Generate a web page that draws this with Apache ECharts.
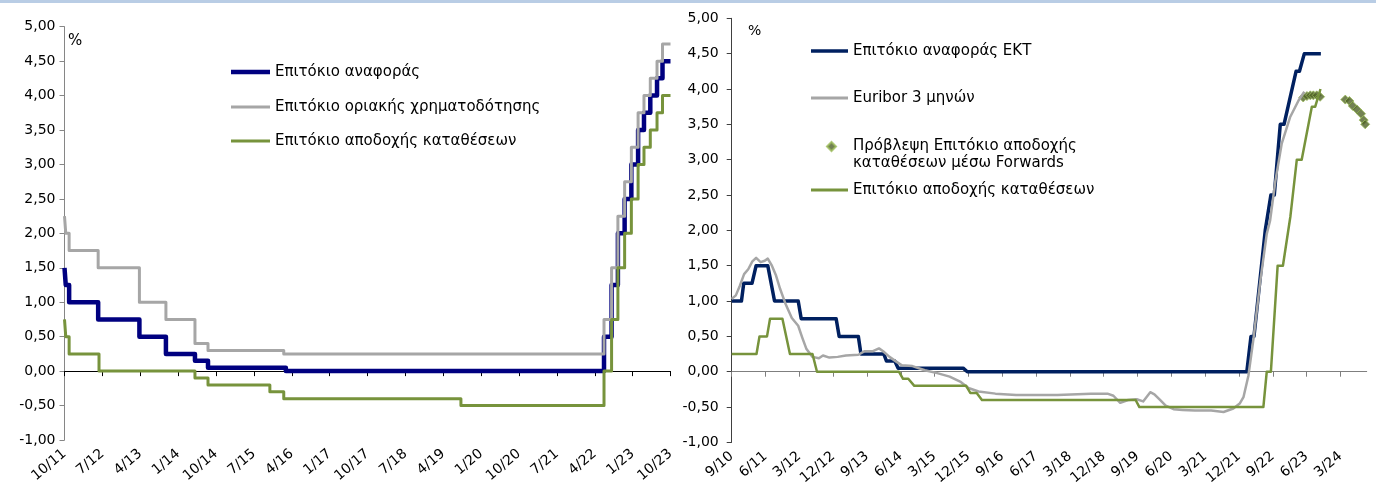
<!DOCTYPE html>
<html><head><meta charset="utf-8">
<script src="https://cdn.jsdelivr.net/npm/echarts@6/dist/echarts.min.js"></script>
<style>html,body{margin:0;padding:0;background:#fff}#c{width:1376px;height:485px}</style>
</head><body><div id="c"></div><script>
// ---- tick labels ----
const leftTickLabels = ['10/11','7/12','4/13','1/14','10/14','7/15','4/16','1/17','10/17','7/18','4/19','1/20','10/20','7/21','4/22','1/23','10/23'];
const rightTickLabels = ['9/10','6/11','3/12','12/12','9/13','6/14','3/15','12/15','9/16','6/17','3/18','12/18','9/19','6/20','3/21','12/21','9/22','6/23','3/24'];

// ---- left chart (x = months from 10/11), step changes ----
const leftRefRate = [[0,1.50],[0.3,1.25],[1.1,1.00],[8.0,0.75],[17.8,0.50],[24.1,0.25],[31.0,0.15],[34.1,0.05],[52.6,0.00],[128.2,0.50],[130.0,1.25],[131.5,2.00],[133.1,2.50],[134.7,3.00],[136.3,3.50],[137.7,3.75],[139.2,4.00],[140.8,4.25],[142.1,4.50],[144,4.50]];
const leftMarginalRate = [[0,2.25],[0.3,2.00],[1.1,1.75],[8.0,1.50],[17.8,1.00],[24.1,0.75],[31.0,0.40],[34.1,0.30],[52.1,0.25],[128.2,0.75],[130.0,1.50],[131.5,2.25],[133.1,2.75],[134.7,3.25],[136.3,3.75],[137.7,4.00],[139.2,4.25],[140.8,4.50],[142.1,4.75],[144,4.75]];
const leftDepositRate = [[0,0.75],[0.3,0.50],[1.1,0.25],[8.2,0.00],[31.0,-0.10],[34.1,-0.20],[48.8,-0.30],[52.1,-0.40],[94.2,-0.50],[128.2,0.00],[130.0,0.75],[131.5,1.50],[133.1,2.00],[134.7,2.50],[136.3,3.00],[137.7,3.25],[139.2,3.50],[140.8,3.75],[142.1,4.00],[144,4.00]];

// ---- right chart (x = months from 9/10) ----
const rightRefRate = [[0,1.00],[2.6,1.00],[3.2,1.25],[5.4,1.25],[6.5,1.50],[9.6,1.50],[11.4,1.00],[17.7,1.00],[18.5,0.75],[27.8,0.75],[28.6,0.50],[33.7,0.50],[34.4,0.25],[40.5,0.25],[41.2,0.15],[43.4,0.15],[44.3,0.05],[61.6,0.05],[62.7,0.00],[137.1,0.00],[138.2,0.50],[139.0,0.50],[140.5,1.25],[142.0,2.00],[143.5,2.50],[144.4,2.50],[146.0,3.50],[147.0,3.50],[150.2,4.25],[151.1,4.25],[152.4,4.50],[156.8,4.50]];
const rightEuribor = [[0,1.03],[1.1,1.08],[2.2,1.22],[3.3,1.38],[4.4,1.45],[5.5,1.56],[6.5,1.61],[7.7,1.55],[8.8,1.57],[9.6,1.60],[10.7,1.50],[11.8,1.36],[12.9,1.17],[14.4,0.95],[16.0,0.76],[17.7,0.65],[18.8,0.48],[19.9,0.32],[21.5,0.21],[23.2,0.19],[24.3,0.23],[26.0,0.20],[28.2,0.21],[30.4,0.23],[33.7,0.24],[35.4,0.29],[37.6,0.29],[39.2,0.33],[40.3,0.29],[42.0,0.21],[43.6,0.15],[45.3,0.09],[48.1,0.08],[51.4,0.02],[54.7,-0.02],[58.0,-0.07],[60.8,-0.14],[63.0,-0.23],[65.7,-0.28],[70.2,-0.31],[75.7,-0.33],[86.7,-0.33],[95.6,-0.31],[100.0,-0.31],[101.6,-0.34],[103.4,-0.44],[105.5,-0.40],[107.8,-0.39],[109.5,-0.42],[111.4,-0.29],[112.5,-0.32],[114.0,-0.40],[115.5,-0.48],[117.6,-0.53],[120.0,-0.54],[123.3,-0.55],[127.6,-0.55],[130.9,-0.57],[133.5,-0.52],[135.2,-0.45],[136.2,-0.36],[137.5,-0.06],[138.9,0.48],[140.7,1.29],[142.4,1.95],[143.3,2.14],[144.7,2.70],[146.4,3.23],[148.6,3.60],[150.9,3.84],[152.4,3.96]];
const rightDepositRate = [[0,0.25],[6.6,0.25],[7.4,0.50],[9.4,0.50],[10.2,0.75],[13.5,0.75],[15.5,0.25],[21.5,0.25],[22.7,0.00],[44.5,0.00],[45.6,-0.10],[47.0,-0.10],[48.6,-0.20],[62.4,-0.20],[63.5,-0.30],[65.2,-0.30],[66.6,-0.40],[107.5,-0.40],[108.5,-0.50],[141.5,-0.50],[142.4,0.00],[143.5,0.00],[145.3,1.50],[146.7,1.50],[148.7,2.20],[150.4,3.00],[151.7,3.00],[154.4,3.75],[155.3,3.75],[156.7,4.00]];
const forecastDeposit = [[152.1,3.88],[153.1,3.90],[154.0,3.91],[154.8,3.91],[155.7,3.91],[156.6,3.89],[163.3,3.85],[164.4,3.83],[165.3,3.76],[166.4,3.71],[167.5,3.65],[168.2,3.56],[168.6,3.50]];

const names = {
  ref: 'Επιτόκιο αναφοράς',
  marg: 'Επιτόκιο οριακής χρηματοδότησης',
  dep: 'Επιτόκιο αποδοχής καταθέσεων',
  refECB: 'Επιτόκιο αναφοράς ΕΚΤ',
  euribor: 'Euribor 3 μηνών',
  fc: 'Πρόβλεψη Επιτόκιο αποδοχής καταθέσεων μέσω Forwards'
};

const FONT = 'DejaVu Sans';
const NAVY_L = '#000080', NAVY_R = '#002060', GRAY = '#a6a6a6', GREEN = '#77933c';
const yFmt = v => v.toFixed(2).replace('.', ',');
const ticksOf = (labels) => labels.map((_, i) => i * 9);

function yAxis(grid, lineColor, margin) {
  return {
    type: 'value', gridIndex: grid, min: -1, max: 5, interval: 0.5,
    axisLine: { show: true, onZero: false, lineStyle: { color: lineColor, width: 1 } },
    axisTick: { show: true, length: 5, lineStyle: { color: lineColor } },
    splitLine: { show: false },
    axisLabel: { formatter: yFmt, fontFamily: FONT, fontSize: 14, color: '#000', margin: margin }
  };
}
function xLabelAxis(grid, max, labels) {
  return {
    type: 'value', gridIndex: grid, min: 0, max: max, interval: 9, position: 'bottom',
    axisLine: { show: false, onZero: false }, axisTick: { show: false }, splitLine: { show: false },
    axisLabel: {
      customValues: ticksOf(labels),
      formatter: v => labels[Math.round(v / 9)] || '',
      rotate: 40, fontFamily: FONT, fontSize: 14, color: '#000', margin: 12
    }
  };
}
function xZeroAxis(grid, max, labels, color) {
  return {
    type: 'value', gridIndex: grid, min: 0, max: max, interval: 9, position: 'bottom',
    axisLine: { show: true, onZero: true, lineStyle: { color: color, width: 1 } },
    axisTick: { show: true, length: 5, customValues: ticksOf(labels), lineStyle: { color: color } },
    axisLabel: { show: false }, splitLine: { show: false }
  };
}
function lineSeries(name, data, xi, yi, color, width, step) {
  return {
    type: 'line', name, data, xAxisIndex: xi, yAxisIndex: yi, step: step || false,
    symbol: 'none', showSymbol: false, silent: true,
    lineStyle: { color, width, join: 'round' }, itemStyle: { color }
  };
}
const legendText = { fontFamily: FONT, fontSize: 15, color: '#000' };
// legend with a flat bar icon; center = y centre of the row
function legend(name, left, center, w, h, color) {
  return {
    data: [{ name: name, icon: 'rect', itemStyle: { color: color } }],
    left, top: center - 7.5, orient: 'vertical', padding: 0,
    itemWidth: w, itemHeight: h, selectedMode: false,
    textStyle: legendText
  };
}

const chart = echarts.init(document.getElementById('c'), null, { renderer: 'canvas' });
chart.setOption({
  animation: false,
  backgroundColor: '#fff',
  grid: [
    { left: 64.5, top: 26.7, width: 606, height: 413.3, containLabel: false, outerBoundsMode: 'none' },
    { left: 731.7, top: 18.3, width: 635, height: 424.1, containLabel: false, outerBoundsMode: 'none' }
  ],
  xAxis: [
    xLabelAxis(0, 144, leftTickLabels),
    xZeroAxis(0, 144, leftTickLabels, '#000'),
    xLabelAxis(1, 169, rightTickLabels),
    xZeroAxis(1, 169, rightTickLabels, '#7f7f7f')
  ],
  yAxis: [yAxis(0, '#868686', 9), yAxis(1, '#404040', 13)],
  legend: [
    legend(names.ref, 231, 72, 39, 4.5, NAVY_L),
    legend(names.marg, 231, 107, 39, 3, GRAY),
    legend(names.dep, 231, 141, 39, 3, GREEN),
    legend(names.refECB, 811, 51, 37, 3.5, NAVY_R),
    legend(names.euribor, 811, 98, 37, 3, GRAY),
    {
      data: [{ name: names.fc, icon: 'path://M0,4.5L4.5,0L9,4.5L4.5,9Z M21,4.5L21,4.5' }],
      left: 826, top: 121, orient: 'vertical', padding: 0,
      itemWidth: 21, itemHeight: 9, selectedMode: false,
      formatter: () => '\nΠρόβλεψη Επιτόκιο αποδοχής\nκαταθέσεων μέσω Forwards',
      textStyle: Object.assign({}, legendText, { lineHeight: 17 })
    },
    legend(names.dep, 811, 190, 37, 3, GREEN)
  ],
  graphic: [
    { type: 'rect', left: 0, top: 0, shape: { width: 1376, height: 3 }, style: { fill: '#b9cde5' }, silent: true },
    { type: 'text', left: 68, top: 34, style: { text: '%', font: '15px "DejaVu Sans"', fill: '#000' } },
    { type: 'text', left: 748, top: 24, style: { text: '%', font: '14px "DejaVu Sans"', fill: '#000' } }
  ],
  series: [
    lineSeries(names.ref, leftRefRate, 0, 0, NAVY_L, 4.5, 'end'),
    lineSeries(names.marg, leftMarginalRate, 0, 0, GRAY, 3, 'end'),
    lineSeries(names.dep, leftDepositRate, 0, 0, GREEN, 3, 'end'),
    lineSeries(names.refECB, rightRefRate, 2, 1, NAVY_R, 3.5),
    lineSeries(names.euribor, rightEuribor, 2, 1, GRAY, 2.5),
    {
      type: 'scatter', name: names.fc, data: forecastDeposit, xAxisIndex: 2, yAxisIndex: 1,
      symbol: 'diamond', symbolSize: 9, silent: true,
      itemStyle: { color: '#4f6228', borderColor: '#9bbb59', borderWidth: 1 }
    },
    lineSeries(names.dep, rightDepositRate, 2, 1, GREEN, 2.5)
  ]
});
</script></body></html>
